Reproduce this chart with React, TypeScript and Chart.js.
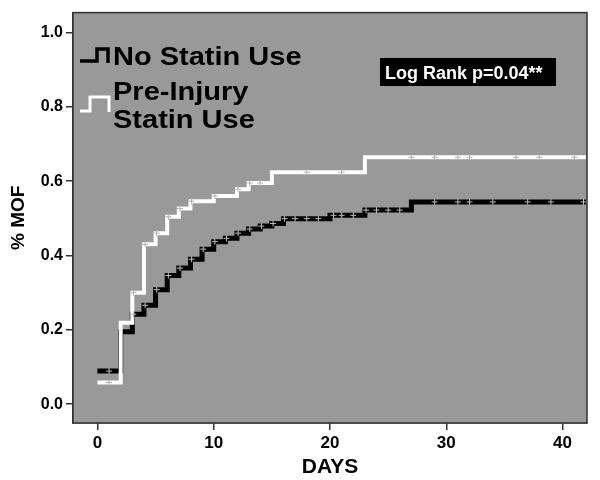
import React, { useEffect, useRef } from "react";
import { Chart, registerables } from "chart.js";

Chart.register(...registerables);

// Kaplan-Meier step data (day at which each level starts, cumulative % MOF)
const noStatinDays = [0, 2, 3, 4, 5, 6, 7, 8, 9, 10, 11, 12, 13, 14, 15, 16, 20, 23, 27, 42];
const noStatinMOF = [0.089, 0.195, 0.242, 0.266, 0.308, 0.346, 0.366, 0.39, 0.417, 0.437, 0.446, 0.46, 0.471, 0.479, 0.486, 0.499, 0.508, 0.522, 0.544, 0.544];
const statinDays = [0, 2, 3, 4, 5, 6, 7, 8, 10, 12, 13, 15, 23, 42];
const statinMOF = [0.058, 0.219, 0.3, 0.43, 0.46, 0.504, 0.526, 0.546, 0.56, 0.578, 0.595, 0.624, 0.664, 0.664];

// censoring times
const noStatinCensored = [1, 3.1, 4.1, 5.1, 6.1, 7.1, 8.1, 9.1, 10.1, 11.1, 12.1, 13.1, 14.1, 15.1, 16.1, 17, 18, 19, 20.3, 21, 22, 23.1, 24, 25, 26, 29, 31, 32, 34, 37, 39, 41.8];
const statinCensored = [1, 3.1, 4.1, 5.1, 6.1, 7.1, 8.1, 10.1, 12.1, 13.1, 14, 18, 21, 27, 29, 31, 32, 36, 38, 41];

const xTicks = [0, 10, 20, 30, 40];
const yTicks = [0, 0.2, 0.4, 0.6, 0.8, 1.0];

const seriesNames = ["No Statin Use", "Pre-Injury Statin Use"];
const logRankText = "Log Rank p=0.04**";
const xTitle = "DAYS";
const yTitle = "% MOF";

function levelAt(days: number[], vals: number[], t: number) {
  let v = vals[0];
  for (let i = 0; i < days.length; i++) if (days[i] <= t) v = vals[i];
  return v;
}

const FONT = '"Liberation Sans", Arial, Helvetica, sans-serif';

function stretchedText(ctx: CanvasRenderingContext2D, text: string, x: number, y: number, sx: number) {
  ctx.save();
  ctx.translate(x, y);
  ctx.scale(sx, 1);
  ctx.fillText(text, 0, 0);
  ctx.restore();
}

const decorPlugin = {
  id: "decor",
  beforeDatasetsDraw(chart: any) {
    const { ctx, chartArea: a } = chart;
    ctx.save();
    ctx.fillStyle = "#999999";
    ctx.fillRect(a.left, a.top, a.right - a.left, a.bottom - a.top);
    ctx.restore();
  },
  afterDraw(chart: any) {
    const { ctx, chartArea: a } = chart;
    ctx.save();
    ctx.strokeStyle = "#333";
    ctx.lineWidth = 1.5;
    ctx.strokeRect(a.left, a.top, a.right - a.left, a.bottom - a.top);

    // legend icons
    ctx.lineJoin = "miter";
    ctx.lineCap = "butt";
    ctx.lineWidth = 3.5;
    ctx.strokeStyle = "#000";
    ctx.beginPath();
    ctx.moveTo(80, 61);
    ctx.lineTo(97, 61);
    ctx.lineTo(97, 49);
    ctx.lineTo(108, 49);
    ctx.lineTo(108, 63);
    ctx.stroke();
    ctx.lineWidth = 3;
    ctx.strokeStyle = "#fff";
    ctx.beginPath();
    ctx.moveTo(80, 111);
    ctx.lineTo(90, 111);
    ctx.lineTo(90, 97);
    ctx.lineTo(109, 97);
    ctx.lineTo(109, 112);
    ctx.stroke();

    // legend text
    ctx.fillStyle = "#000";
    ctx.font = `bold 25px ${FONT}`;
    ctx.textBaseline = "alphabetic";
    ctx.textAlign = "left";
    stretchedText(ctx, seriesNames[0], 113, 65, 1.16);
    const parts = seriesNames[1].split(" ");
    stretchedText(ctx, parts[0], 113, 100, 1.16);
    stretchedText(ctx, parts.slice(1).join(" "), 113, 128, 1.16);

    // log rank box
    ctx.fillStyle = "#000";
    ctx.fillRect(380, 58, 176, 28);
    ctx.fillStyle = "#fff";
    ctx.font = `bold 18px ${FONT}`;
    stretchedText(ctx, logRankText, 385, 79, 1.0);
    ctx.restore();
  },
};

export default function App() {
  const ref = useRef<HTMLCanvasElement | null>(null);

  useEffect(() => {
    document.body.style.margin = "0";
    const canvas = ref.current;
    if (!canvas) return;

    const lineData = (d: number[], v: number[]) => d.map((x, i) => ({ x, y: v[i] }));
    const censorData = (c: number[], d: number[], v: number[]) => c.map((t) => ({ x: t, y: levelAt(d, v, t) }));

    const chart = new Chart(canvas, {
      type: "scatter",
      data: {
        datasets: [
          {
            label: seriesNames[0] + " censored",
            data: censorData(noStatinCensored, noStatinDays, noStatinMOF),
            showLine: false,
            pointStyle: "cross",
            pointRadius: 3,
            borderColor: "#bdbdbd",
            borderWidth: 1,
            order: 0,
          } as any,
          {
            label: seriesNames[1] + " censored",
            data: censorData(statinCensored, statinDays, statinMOF),
            showLine: false,
            pointStyle: "cross",
            pointRadius: 3,
            borderColor: "#b0b0b0",
            borderWidth: 1,
            order: 0,
          } as any,
          {
            label: seriesNames[1],
            data: lineData(statinDays, statinMOF),
            showLine: true,
            stepped: true,
            borderColor: "#ffffff",
            borderWidth: 4,
            pointRadius: 0,
            fill: false,
            order: 1,
          } as any,
          {
            label: seriesNames[0],
            data: lineData(noStatinDays, noStatinMOF),
            showLine: true,
            stepped: true,
            borderColor: "#000000",
            borderWidth: 5,
            pointRadius: 0,
            fill: false,
            order: 2,
          } as any,
        ],
      },
      options: {
        animation: false,
        responsive: false,
        maintainAspectRatio: false,
        layout: { padding: { left: 0, right: 13, top: 9, bottom: 0 } },
        plugins: { legend: { display: false }, tooltip: { enabled: false } },
        scales: {
          x: {
            type: "linear",
            min: -2.1,
            max: 42.1,
            afterBuildTicks: (s: any) => {
              s.ticks = xTicks.map((v) => ({ value: v }));
            },
            afterFit: (s: any) => {
              s.height = 57;
            },
            grid: { drawOnChartArea: false, drawTicks: true, tickLength: 7, color: "#333", lineWidth: 1.5 },
            border: { display: true, color: "#333", width: 1.5 },
            ticks: {
              color: "#000",
              padding: 3,
              maxRotation: 0,
              font: { family: FONT, size: 17, weight: "bold" },
              callback: (v: any) => String(v),
            },
            title: {
              display: true,
              text: xTitle,
              color: "#000",
              font: { family: FONT, size: 21, weight: "bold" },
              padding: { top: 0, bottom: 0 },
            },
          },
          y: {
            type: "linear",
            min: -0.0507,
            max: 1.0533,
            afterBuildTicks: (s: any) => {
              s.ticks = yTicks.map((v) => ({ value: v }));
            },
            afterFit: (s: any) => {
              s.width = 73;
            },
            grid: { drawOnChartArea: false, drawTicks: true, tickLength: 7, color: "#333", lineWidth: 1.5 },
            border: { display: true, color: "#333", width: 1.5 },
            ticks: {
              color: "#000",
              padding: 3,
              font: { family: FONT, size: 16, weight: "bold" },
              callback: (v: any) => Number(v).toFixed(1),
            },
            title: {
              display: true,
              text: yTitle,
              color: "#000",
              font: { family: FONT, size: 19, weight: "bold" },
              padding: { top: 7, bottom: 0 },
            },
          },
        },
      } as any,
      plugins: [decorPlugin],
    });

    return () => chart.destroy();
  }, []);

  return (
    <div style={{ position: "fixed", left: 0, top: 0, width: 600, height: 480, background: "#fff" }}>
      <canvas ref={ref} width={600} height={480} style={{ width: 600, height: 480, display: "block" }} />
    </div>
  );
}
